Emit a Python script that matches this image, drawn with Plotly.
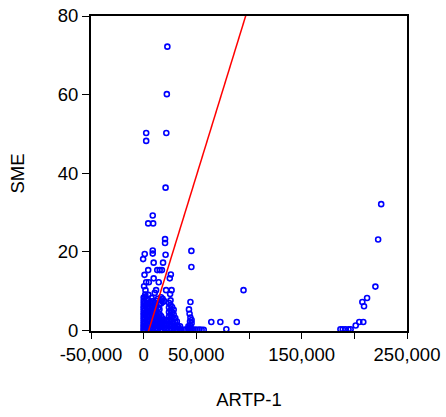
import plotly.graph_objects as go

# ---- data ----
# sparse / outlying observations: ARTP-1 (x) and SME (y)
out_x = [22500, 22000, 21500, 2400, 2400, 20800, 8600, 4300, 9000, 20300, 20300,
         8600, 8600, 1000, -500, 20800, 9500, 18400, 45300, 45300, 4300, 12900,
         15200, 17300, 800, 25800, 9500, 24800, 14300, 2400, 4900, 400, 1700,
         11800, 21300, 26500, 25100, 94800, 44400, 43000, 43600, 44400, 44000,
         64200, 72800, 78500, 88400,
         225500, 222600, 220000, 212100, 207600, 209200, 204700, 208500, 201300,
         186800, 189000, 191500, 194500, 196500]
out_y = [72.2, 60.1, 50.2, 50.2, 48.2, 36.3, 29.2, 27.2, 27.2, 23.2, 22.2,
         20.3, 19.5, 19.4, 18.1, 19.2, 17.2, 17.2, 20.2, 16.1, 15.3, 15.3,
         15.3, 15.3, 14.1, 14.2, 13.2, 13.2, 12.2, 12.2, 12.2, 11.2, 10.2,
         10.2, 10.2, 10.2, 9.2, 10.2, 7.2, 5.3, 4.2, 3.2, 2.2,
         2.1, 2.1, 0.25, 2.1,
         32.1, 23.1, 11.1, 8.2, 7.2, 6.1, 2.1, 2.1, 1.2,
         0.25, 0.25, 0.25, 0.25, 0.25]

# dense cluster near the origin
dense_x = ([0] * 16 + [1500] * 10 + [3000] * 8 + [4500] * 9 + [6000] * 7 +
           [7500] * 8 + [9000] * 7 + [10500] * 8 + [12000] * 7 + [13500] * 7 +
           [15000] * 6 + [16500] * 7 + [18000] * 6 + [19500] * 4 + [21000] * 3 +
           [22500] * 3 + [24000] * 7 + [25500] * 7 + [27000] * 6 + [28500] * 5 +
           [30000] * 4 + [31500] * 3 + [33000] * 2 + [34500] * 2 + [36000] * 1 +
           [38000, 40000, 42500, 42500, 44000, 44000, 44000, 45500, 45500, 45500,
            47000, 49000, 51000, 53000, 55000, 57000])
dense_y = ([0.0, 0.3, 0.8, 1.2, 1.7, 2.2, 2.8, 3.3, 3.9, 4.4, 5.0, 5.6, 6.1, 6.8, 7.5, 8.3] +
           [0.2, 1.0, 2.0, 3.0, 4.1, 5.2, 6.3, 7.2, 8.6, 9.1] +
           [0.5, 1.5, 2.5, 3.6, 4.7, 5.8, 6.9, 8.0] +
           [0.1, 1.1, 2.3, 3.4, 4.5, 5.5, 6.6, 7.7, 9.0] +
           [0.4, 1.6, 2.7, 3.8, 4.9, 6.0, 7.1] +
           [0.2, 1.3, 2.4, 3.5, 4.6, 5.7, 6.8, 8.2] +
           [0.6, 1.8, 2.9, 4.0, 5.1, 6.2, 7.4] +
           [0.1, 1.2, 2.3, 3.4, 4.5, 5.6, 6.9, 9.5] +
           [0.5, 1.6, 2.8, 3.9, 5.0, 6.2, 7.5] +
           [0.2, 1.1, 2.2, 3.3, 4.4, 5.6, 8.0] +
           [0.7, 1.8, 2.9, 4.1, 5.3, 6.6] +
           [0.3, 1.4, 2.5, 3.6, 6.8, 7.6, 8.4] +
           [0.1, 1.0, 2.1, 3.0, 7.2, 8.0] +
           [0.6, 1.7, 2.6, 7.4] +
           [0.2, 1.3, 2.4] +
           [0.5, 1.6, 2.6] +
           [0.1, 1.2, 2.3, 3.5, 4.6, 5.8, 7.0] +
           [0.4, 1.5, 2.7, 3.9, 5.1, 6.4, 7.6] +
           [0.2, 1.1, 2.2, 3.4, 4.6, 5.9] +
           [0.6, 1.7, 2.9, 4.0, 5.2] +
           [0.1, 1.0, 2.0, 3.1] +
           [0.3, 1.2, 2.2] +
           [0.1, 0.8] +
           [0.2, 1.0] +
           [0.1] +
           [0.1, 0.2, 0.3, 1.0, 0.1, 0.6, 1.2, 0.3, 1.8, 2.6,
            0.1, 0.2, 0.1, 0.2, 0.1, 0.1])

# fitted regression line SME = a + b * ARTP-1
fit_a = -4.24
fit_b = 0.000870

x_range = [-50000, 250000]
y_range = [-0.2, 80]
x_ticks = [-50000, 0, 50000, 100000, 150000, 200000, 250000]
x_tick_text = ["-50,000", "0", "50,000", "", "150,000", "", "250,000"]
y_ticks = [0, 20, 40, 60, 80]

all_x = out_x + dense_x
all_y = out_y + dense_y

fig = go.Figure()
fig.add_trace(go.Scatter(
    x=all_x, y=all_y, mode="markers",
    marker=dict(symbol="circle-open", size=5, color="#0000ff",
                line=dict(width=1.6, color="#0000ff")),
    showlegend=False, hoverinfo="x+y"))

line_x = [x_range[0], x_range[1]]
line_y = [fit_a + fit_b * v for v in line_x]
fig.add_trace(go.Scatter(x=line_x, y=line_y, mode="lines",
                         line=dict(color="#ff0000", width=1.5),
                         showlegend=False, hoverinfo="skip"))

font = dict(family="Liberation Sans, Arial, sans-serif", size=18.5, color="#000000")
fig.update_layout(
    width=446, height=417,
    margin=dict(l=91, r=39, t=16, b=86),
    paper_bgcolor="white", plot_bgcolor="white",
    font=font,
    xaxis=dict(range=x_range, tickvals=x_ticks, ticktext=x_tick_text,
               showgrid=False, zeroline=False, showline=True, linecolor="black",
               linewidth=2, mirror=True, ticks="outside", ticklen=6,
               tickcolor="black", tickwidth=1, automargin=False,
               title=dict(text="ARTP-1", standoff=29, font=font)),
    yaxis=dict(range=y_range, tickvals=y_ticks,
               showgrid=False, zeroline=False, showline=True, linecolor="black",
               linewidth=2, mirror=True, ticks="outside", ticklen=7,
               tickcolor="black", tickwidth=1, automargin=False,
               title=dict(text="SME", standoff=28, font=font)),
)

fig.write_html("out.html")
